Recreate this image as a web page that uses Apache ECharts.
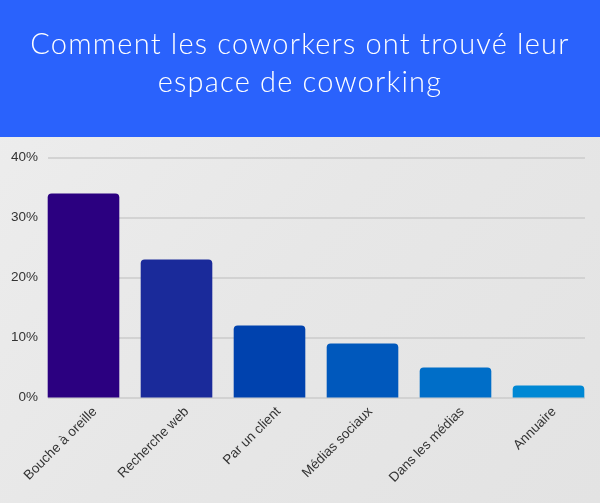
<!DOCTYPE html>
<html>
<head>
<meta charset="utf-8">
<script src="https://cdn.jsdelivr.net/npm/echarts@6/dist/echarts.min.js"></script>
<style>
  html, body { margin: 0; padding: 0; }
  #wrap { position: relative; width: 600px; height: 503px; }
  #chart { width: 600px; height: 503px; }
  #title {
    position: absolute; left: 0; top: 24px; width: 600px;
    text-align: center; color: #fff;
    font-family: 'Lato'; font-weight: 300; font-size: 29px;
    line-height: 38px; letter-spacing: 1.2px;
  }
</style>
</head>
<body>
<div id="wrap">
  <div id="chart"></div>
  <div id="title">Comment les coworkers ont trouvé leur<br>espace de coworking</div>
</div>
<script>
const categories = ['Bouche à oreille', 'Recherche web', 'Par un client', 'Médias sociaux', 'Dans les médias', 'Annuaire'];
const shares = [34, 23, 12, 9, 5, 2];
const barColors = ['#2b0080', '#1a2a9a', '#0042ae', '#0058bc', '#006ec8', '#0088d4'];

const TOP = 157.5;
const BOTTOM = 105.5;
const labelShift = 12;

const chart = echarts.init(document.getElementById('chart'));

chart.setOption({
  animation: false,
  backgroundColor: {
    type: 'linear', x: 0, y: 0, x2: 1, y2: 1,
    colorStops: [
      { offset: 0, color: '#eeeeee' },
      { offset: 0.5, color: '#e7e7e7' },
      { offset: 1, color: '#e3e3e3' }
    ]
  },
  graphic: [{
    type: 'rect',
    z: -1,
    shape: { x: 0, y: 0, width: 600, height: 137 },
    style: { fill: '#2a62fc' }
  }],
  grid: [
    // bars
    { left: 37, right: 5, top: TOP, bottom: BOTTOM },
    // gridlines and y labels
    { left: 48, right: 15, top: TOP, bottom: BOTTOM },
    // slanted category labels
    { left: 37 + labelShift, right: 5 - labelShift, top: TOP, bottom: BOTTOM }
  ],
  xAxis: [
    { gridIndex: 0, type: 'category', data: categories, show: false },
    { gridIndex: 1, type: 'category', data: categories, show: false },
    {
      gridIndex: 2, type: 'category', data: categories,
      axisLine: { show: false },
      axisTick: { show: false },
      axisLabel: {
        rotate: 45,
        margin: 12,
        interval: 0,
        color: '#333',
        fontFamily: 'Liberation Sans',
        fontSize: 13.5
      }
    }
  ],
  yAxis: [
    { gridIndex: 0, type: 'value', min: 0, max: 40, show: false },
    {
      gridIndex: 1, type: 'value', min: 0, max: 40, interval: 10,
      axisLine: { show: false },
      axisTick: { show: false },
      splitLine: { lineStyle: { color: '#cbcbcb', width: 1.5 } },
      axisLabel: {
        margin: 10,
        color: '#333',
        fontFamily: 'Liberation Sans',
        fontSize: 13.5,
        formatter: '{value}%'
      }
    },
    { gridIndex: 2, type: 'value', min: 0, max: 40, show: false }
  ],
  series: [{
    type: 'bar',
    xAxisIndex: 0,
    yAxisIndex: 0,
    z: 3,
    barCategoryGap: '23%',
    data: shares.map((v, i) => ({
      value: v,
      itemStyle: { color: barColors[i], borderRadius: [4, 4, 0, 0] }
    }))
  }]
});
</script>
</body>
</html>
